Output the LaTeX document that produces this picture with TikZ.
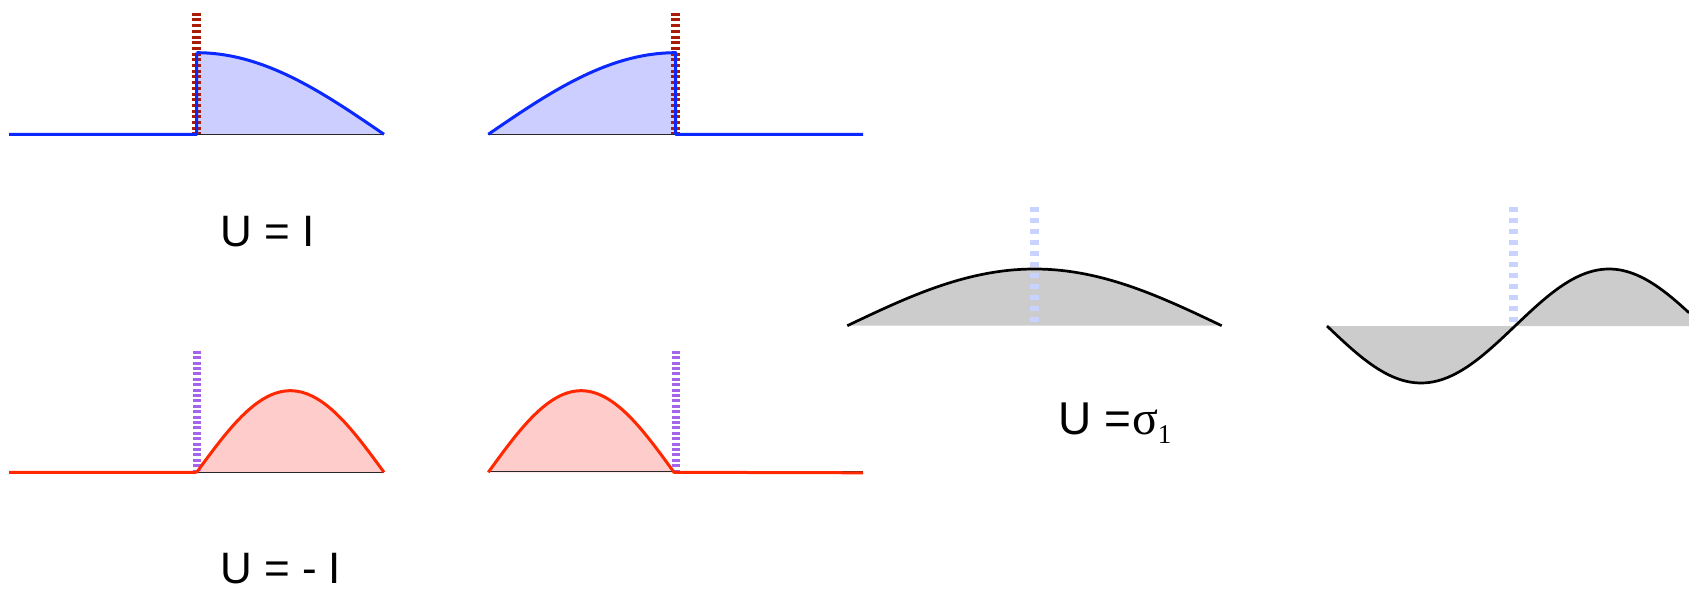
\documentclass[tikz,border=0pt]{standalone}
\usepackage{fontspec}
\setmainfont{Liberation Sans}
\newfontfamily\timesfont{Liberation Serif}
\definecolor{bluec}{RGB}{10,40,255}
\definecolor{bluefill}{RGB}{204,206,255}
\definecolor{redc}{RGB}{255,40,0}
\definecolor{redfill}{RGB}{255,204,204}
\definecolor{darkredc}{RGB}{168,28,8}
\definecolor{purplec}{RGB}{164,100,236}
\definecolor{paleblue}{RGB}{200,212,255}
\definecolor{grayfill}{RGB}{204,204,204}
\definecolor{axisc}{RGB}{40,40,40}
\begin{document}
\begin{tikzpicture}[x=1pt,y=-1pt,
  bluecurve/.style={draw=bluec, line width=3pt, line join=round},
  redcurve/.style={draw=redc, line width=3pt, line join=round},
  blackcurve/.style={draw=black, line width=2.7pt, line join=round},
  axisline/.style={draw=axisc, line width=1.6pt},
  reddash/.style={draw=darkredc, line width=8.5pt, dash pattern=on 3pt off 2.7pt},
  purpledash/.style={draw=purplec, line width=8pt, dash pattern=on 3pt off 2.4pt},
  paledash/.style={draw=paleblue, line width=9pt, dash pattern=on 5pt off 6pt},
  label/.style={inner sep=0pt, anchor=base west, font=\fontsize{44}{50}\selectfont}]
\useasboundingbox (0,0) rectangle (1689,589);

% ---------- panel 1 (top left)
\fill[bluefill] (196.7,134.3) -- plot[domain=0:90, samples=60] ({196.7+2.0811*\x},{134.3-81.6*cos(\x)}) -- cycle;
\draw[axisline] (196.7,134.6) -- (384,134.6);
\draw[reddash] (196.7,12.7) -- (196.7,134);
\draw[bluecurve] (9,134.3) -- (196.7,134.3) -- (196.7,52.7)
  plot[domain=0:90, samples=60] ({196.7+2.0811*\x},{134.3-81.6*cos(\x)});

% ---------- panel 2 (top right)
\fill[bluefill] (488.3,134.3) -- plot[domain=0:90, samples=60] ({488.3+2.0822*\x},{134.3-81.6*sin(\x)}) -- (675.7,134.3) -- cycle;
\draw[axisline] (488.3,134.6) -- (675.7,134.6);
\draw[reddash] (675.7,12.7) -- (675.7,134);
\draw[bluecurve] plot[domain=0:90, samples=60] ({488.3+2.0822*\x},{134.3-81.6*sin(\x)})
  -- (675.7,134.3) -- (863,134.3);

% ---------- panel 3 (bottom left)
\fill[redfill] plot[domain=0:180, samples=80] ({196.7+1.0406*\x},{472.3-81.6*sin(\x)}) -- cycle;
\draw[axisline] (196.7,472.6) -- (384,472.6);
\draw[purpledash] (196.7,350.7) -- (196.7,470);
\draw[redcurve] (9,472.3) -- (196.7,472.3)
  plot[domain=0:180, samples=80] ({196.7+1.0406*\x},{472.3-81.6*sin(\x)});

% ---------- panel 4 (bottom right)
\fill[redfill] plot[domain=0:180, samples=80] ({488.3+1.0317*\x},{472.3-81.6*sin(\x)}) -- cycle;
\draw[axisline] (488.3,471.3) -- (863,471.3);
\draw[purpledash] (675.7,350.7) -- (675.7,470);
\draw[redcurve] plot[domain=0:180, samples=80] ({488.3+1.0317*\x},{472.3-81.6*sin(\x)})
  -- (863,472.8);

% ---------- panel 5 (sigma, single hump)
\fill[grayfill] plot[domain=0:180, samples=80] ({847.3+2.08*\x},{325.7-56.7*sin(\x)}) -- cycle;
\draw[paledash] (1034.3,206.7) -- (1034.3,325);
\draw[blackcurve] plot[domain=0:180, samples=80] ({847.3+2.08*\x},{325.7-56.7*sin(\x)});

% ---------- panel 6 (sigma, full wave)
\fill[grayfill] (1327,326) -- plot[domain=0:362, samples=100] ({1327+\x},{326+57*sin(0.95745*\x)}) -- (1689,326) -- cycle;
\draw[paledash] (1513.3,206.7) -- (1513.3,325);
\draw[blackcurve] plot[domain=0:362, samples=100] ({1327+\x},{326+57*sin(0.95745*\x)});

% ---------- labels
\node[label] (lblI) at (220,246.7) {U = I};
\node[label] (lblmI) at (220,583) {U = - I};
\node[label, font=\fontsize{46}{50}\selectfont] (lblsig) at (1058,434.3)
  {U =\kern1pt{\timesfont\fontsize{48}{50}\selectfont σ}\raisebox{-9pt}{\timesfont\fontsize{27}{30}\selectfont 1}};
\end{tikzpicture}
\end{document}
